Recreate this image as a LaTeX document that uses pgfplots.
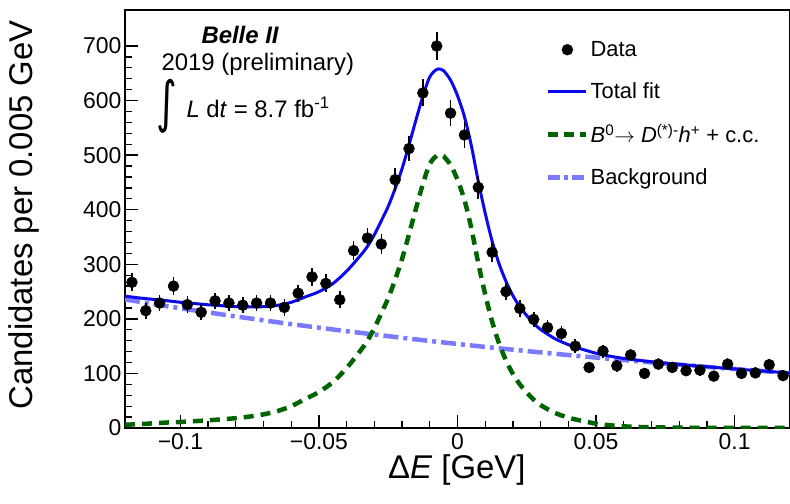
\documentclass[border=0pt]{standalone}
\usepackage{fontspec}
\setmainfont{Liberation Sans}
\newfontfamily\dejavu{DejaVu Sans}
\usepackage{pgfplots}
\pgfplotsset{compat=1.18}
\usepackage{pgfplotstable}
\definecolor{fitblue}{RGB}{10,10,235}
\definecolor{siggreen}{RGB}{0,100,0}
\definecolor{bkgblue}{RGB}{122,122,255}
\pgfplotsset{
  myleglin/.style={legend image code/.code={\draw[##1] (0bp,0bp) -- (38bp,0bp);}},
  mylegmark/.style={legend image code/.code={\draw[mark repeat=2,mark phase=2,##1] plot coordinates {(0bp,0bp) (19bp,0bp) (38bp,0bp)};}},
}

\pgfplotstableread{
x y err
-0.1175 267 16.3
-0.1125 215 14.7
-0.1075 229 15.1
-0.1025 260 16.1
-0.0975 226 15.0
-0.0925 212 14.6
-0.0875 233 15.3
-0.0825 229 15.1
-0.0775 225 15.0
-0.0725 229 15.1
-0.0675 229 15.1
-0.0625 221 14.9
-0.0575 247 15.7
-0.0525 277 16.6
-0.0475 265 16.3
-0.0425 235 15.3
-0.0375 325 18.0
-0.0325 348 18.7
-0.0275 337 18.4
-0.0225 455 21.3
-0.0175 512 22.6
-0.0125 614 24.8
-0.0075 700 26.5
-0.0025 577 24.0
0.0025 537 23.2
0.0075 441 21.0
0.0125 322 17.9
0.0175 250 15.8
0.0225 219 14.8
0.0275 199 14.1
0.0325 184 13.6
0.0375 173 13.2
0.0425 150 12.2
0.0475 111 10.5
0.0525 141 11.9
0.0575 114 10.7
0.0625 134 11.6
0.0675 100 10.0
0.0725 117 10.8
0.0775 111 10.5
0.0825 105 10.2
0.0875 106 10.3
0.0925 95 9.7
0.0975 117 10.8
0.1025 100 10.0
0.1075 101 10.0
0.1125 116 10.8
0.1175 96 9.8
}\datatable

\pgfplotstableread{
x s
-0.120 6
-0.115 7
-0.110 8.5
-0.105 10
-0.100 11
-0.095 12.5
-0.090 14
-0.085 16
-0.080 18
-0.075 21
-0.070 25
-0.065 31
-0.060 40
-0.055 53
-0.050 66
-0.045 84
-0.040 110
-0.035 142
-0.0325 160
-0.030 183
-0.0275 210
-0.025 238
-0.0225 272
-0.020 310
-0.0175 355
-0.015 402
-0.0125 447
-0.010 484
-0.0075 499
-0.006 500
-0.005 498
-0.0025 482
0.000 455
0.0025 418
0.005 366
0.0075 302
0.010 245
0.0125 195
0.015 155
0.0175 124
0.020 99
0.0225 80
0.025 65
0.0275 52
0.030 42
0.035 28
0.040 19
0.045 13
0.050 8
0.055 5
0.060 3
0.065 2
0.070 1.2
0.075 0.9
0.080 0.6
0.090 0.3
0.100 0.15
0.110 0.08
0.120 0.04
}\sigtable

\pgfplotstableread{
x b
-0.12 235.6
-0.11 227.3
-0.10 219.4
-0.09 211.8
-0.08 204.4
-0.07 197.3
-0.06 190.4
-0.05 183.8
-0.04 177.4
-0.03 171.3
-0.02 165.3
-0.01 159.5
0.00 154.0
0.01 148.6
0.02 143.5
0.03 138.5
0.04 133.7
0.05 129.0
0.06 124.5
0.07 120.2
0.08 116.1
0.09 112.0
0.10 108.1
0.11 104.4
0.12 100.8
}\bkgtable

\pgfplotstableread{
x t
-0.120 241.6
-0.115 238.4
-0.110 235.8
-0.105 233.3
-0.100 230.4
-0.095 228.1
-0.090 225.8
-0.085 224.1
-0.080 222.4
-0.075 221.8
-0.070 222.3
-0.065 224.8
-0.060 230.4
-0.055 240.1
-0.050 249.8
-0.045 264.6
-0.040 287.4
-0.035 316.3
-0.0325 332.8
-0.030 354.3
-0.0275 379.7
-0.025 406.2
-0.0225 438.8
-0.020 475.3
-0.0175 518.8
-0.015 564.4
-0.0125 608.0
-0.010 643.5
-0.0075 657.1
-0.006 657.3
-0.005 654.8
-0.0025 637.4
0.000 609.0
0.0025 570.6
0.005 517.3
0.0075 451.9
0.010 393.6
0.0125 342.3
0.015 301.0
0.0175 268.7
0.020 242.5
0.0225 222.2
0.025 206.0
0.0275 191.7
0.030 180.5
0.035 164.1
0.040 152.7
0.045 144.3
0.050 137.0
0.055 131.7
0.060 127.5
0.065 124.3
0.070 121.4
0.075 119.0
0.080 116.7
0.085 114.5
0.090 112.3
0.095 110.2
0.100 108.3
0.105 106.3
0.110 104.5
0.115 102.6
0.120 100.8
}\tottable

\begin{document}
\begin{tikzpicture}
\begin{axis}[
  scale only axis, width=665bp, height=418bp,
  xmin=-0.12, xmax=0.12, ymin=0, ymax=766,
  axis line style={line width=2.5bp},
  xtick={-0.1,-0.05,0,0.05,0.1},
  xticklabels={−0.1,−0.05,0,0.05,0.1},
  scaled x ticks=false,
  ytick={0,100,...,700},
  minor x tick num=4, minor y tick num=4,
  major tick length=13bp, minor tick length=7bp,
  every tick/.style={line width=1.3bp, black},
  xtick pos=bottom, ytick pos=left, tick align=inside,
  /pgf/number format/assume math mode=true,
  tick label style={font=\fontsize{23}{27}\selectfont},
  xticklabel style={yshift=-2bp},
  xlabel={Δ\textit{E} [GeV]},
  ylabel={Candidates per 0.005 GeV},
  label style={font=\fontsize{33}{38}\selectfont},
  xlabel style={at={(axis description cs:0.499,-0.100)}, anchor=center},
  ylabel style={at={(axis description cs:-0.152,0.51)}, anchor=center},
  legend style={draw=none, fill=none, at={(axis description cs:0.633,0.930)}, anchor=north west,
    font=\fontsize{22}{26}\selectfont, row sep=20.5bp, inner sep=0pt, cells={anchor=west}},
  legend cell align=left,
]
\addlegendimage{only marks, mark=*, mark size=5.5bp, black, mylegmark}
\addlegendentry{Data}
\addlegendimage{fitblue, line width=3bp, myleglin}
\addlegendentry{Total fit}
\addlegendimage{siggreen, line width=4.5bp, dash pattern=on 10bp off 6bp, myleglin}
\addlegendentry{\textit{B}\textsuperscript{0}$\rightarrow$ \textit{D}\textsuperscript{(*)-}\textit{h}\textsuperscript{+} + c.c.}
\addlegendimage{bkgblue, line width=4.5bp, dash pattern=on 12bp off 4bp on 4bp off 4bp, myleglin}
\addlegendentry{Background}

\addplot[forget plot, bkgblue, line width=4.5bp, dash pattern=on 15bp off 5bp on 4bp off 5bp, smooth] table[x=x, y=b] {\bkgtable};
\addplot[forget plot, siggreen, line width=4.5bp, dash pattern=on 10bp off 7bp, smooth] table[x=x, y=s] {\sigtable};
\addplot[forget plot, fitblue, line width=3bp, smooth] table[x=x, y=t] {\tottable};
\addplot[forget plot, only marks, mark=*, mark size=5.5bp, black,
  error bars/.cd, y dir=both, y explicit, error mark=none,
  error bar style={line width=1.6bp, black}]
  table[x=x, y=y, y error=err] {\datatable};

\node[anchor=base, font=\fontsize{24}{28}\selectfont\bfseries\itshape] at (axis description cs:0.173,0.920) {Belle II};
\node[anchor=base west, font=\fontsize{24}{28}\selectfont] at (axis description cs:0.0496,0.856) {2019 (preliminary)};
\node[anchor=center, inner sep=0pt] at (axis description cs:0.0632,0.770) {\dejavu\fontsize{40}{40}\selectfont\scalebox{1}[1.4]{∫}};
\node[anchor=base west, font=\fontsize{24}{28}\selectfont] at (axis description cs:0.0872,0.742) {\textit{L} d\textit{t} = 8.7 fb\textsuperscript{-1}};
\end{axis}
\pgfresetboundingbox
\path[use as bounding box] (-125bp,-76bp) rectangle (665bp,428bp);
\end{tikzpicture}
\end{document}
